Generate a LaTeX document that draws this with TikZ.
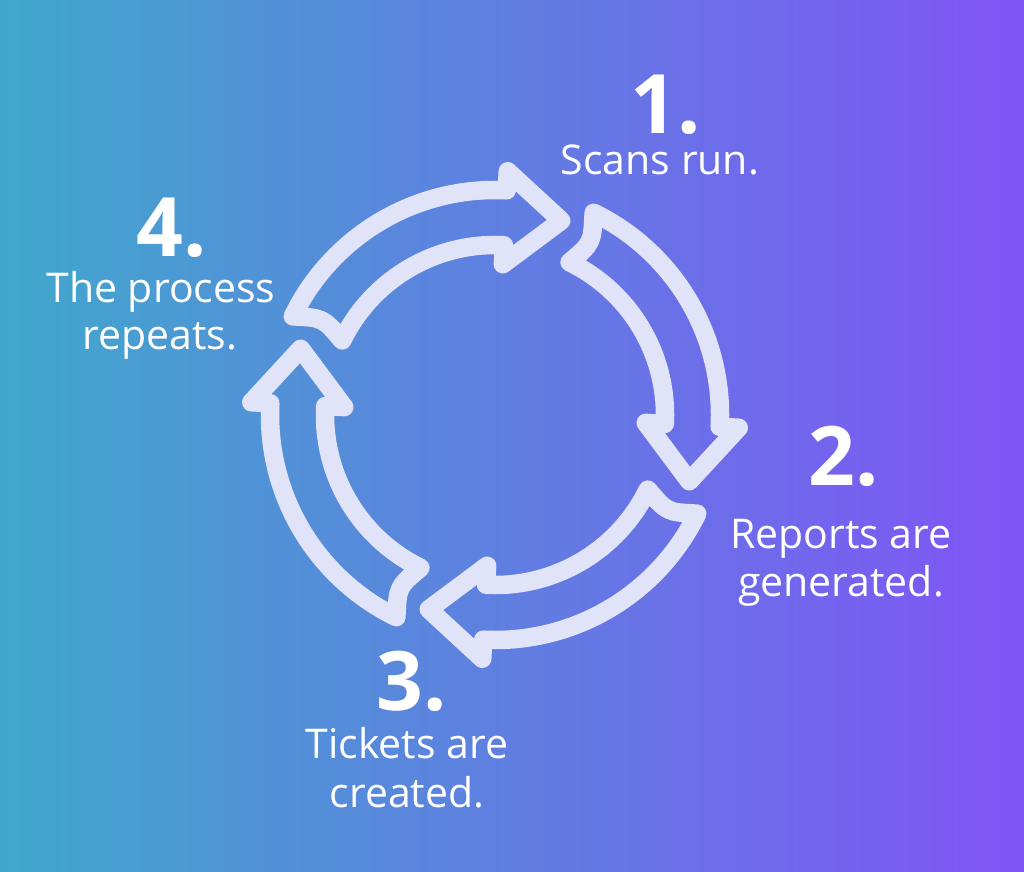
\documentclass[tikz,border=0pt]{standalone}
\usepackage{fontspec}
\setmainfont{Open Sans}
\definecolor{bgleft}{RGB}{64,168,204}
\definecolor{bgright}{RGB}{128,84,246}
\definecolor{ring}{RGB}{225,228,248}
\newcommand\cycarrow[2]{%
  \draw[cyc] (#1:225) arc[start angle=#1, end angle=#2, radius=225]
    -- (#2:244) -- (#2-15.83:205.3) -- (#2:151) -- (#2:170)
    arc[start angle=#2, end angle=#1, radius=170]
    .. controls (#1-3.5:197.5) .. (#1:225) -- cycle;}
\begin{document}
\begin{tikzpicture}[x=1pt,y=1pt,
  cyc/.style={draw=ring, line width=18.5pt, line join=round},
  num/.style={text=white, font=\fontsize{82}{82}\selectfont\bfseries, anchor=base, inner sep=0pt},
  lbl/.style={text=white, font=\fontsize{41}{48}\selectfont, anchor=base, inner sep=0pt}]
\shade[left color=bgleft, right color=bgright] (0,0) rectangle (1024,871);
\useasboundingbox (0,0) rectangle (1024,871);
\coordinate (c) at (495,456);
\begin{scope}[shift={(c)}]
  \cycarrow{154}{87}
  \cycarrow{64}{-3}
  \cycarrow{-26}{-93}
  \cycarrow{-116}{-183}
\end{scope}
\node[num] (n1) at (666,737) {1.};
\node[lbl] (t1) at (660,696) {Scans run.};
\node[num] (n2) at (844,386) {2.};
\node[lbl] (t2a) at (841,323) {Reports are};
\node[lbl] (t2b) at (841,275) {generated.};
\node[num] (n3) at (412,161) {3.};
\node[lbl] (t3a) at (407,113) {Tickets are};
\node[lbl] (t3b) at (407,64) {created.};
\node[num] (n4) at (172,614) {4.};
\node[lbl] (t4a) at (161,568) {The process};
\node[lbl] (t4b) at (160,521) {repeats.};
\end{tikzpicture}
\end{document}
